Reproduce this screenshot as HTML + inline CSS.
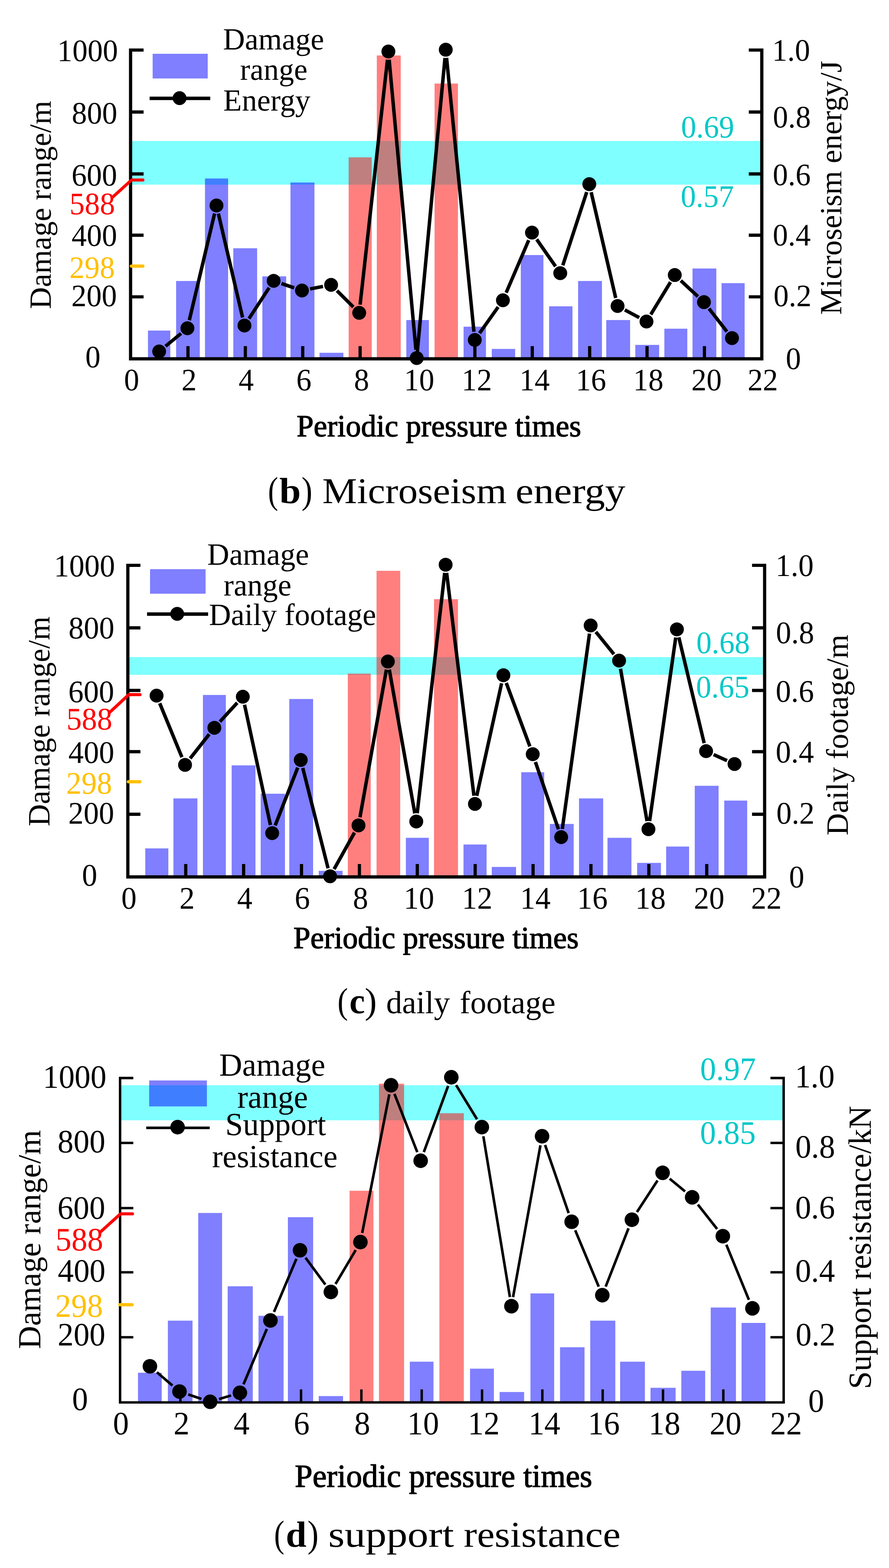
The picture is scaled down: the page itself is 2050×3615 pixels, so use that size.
<!DOCTYPE html>
<html lang="en"><head><meta charset="utf-8"><title>Figure: damage range versus microseism energy, daily footage and support resistance</title>
<style>html,body{margin:0;padding:0;background:#fff}body{width:2050px;height:3615px;overflow:hidden}svg{display:block}text{font-family:"Liberation Serif","Times New Roman",Times,serif;white-space:pre}</style></head><body>
<svg width="2050" height="3615" viewBox="0 0 2050 3615" shape-rendering="geometricPrecision" text-rendering="geometricPrecision">
<rect width="2050" height="3615" fill="#fff"/>
<g id="chart-b">
<rect x="301.1" y="325" width="1455.6" height="100.7" fill="#00ffff" fill-opacity="0.5"/>
<g fill="#0000ff" fill-opacity="0.5"><rect x="341.2" y="762.07" width="51.5" height="65.13"/><rect x="406.1" y="647.83" width="54.6" height="179.37"/><rect x="472.7" y="411.51" width="53.3" height="415.69"/><rect x="538" y="572.38" width="54.9" height="254.82"/><rect x="605" y="637.15" width="54.9" height="190.05"/><rect x="669.8" y="420.76" width="55.3" height="406.44"/><rect x="736.8" y="813.32" width="55" height="13.88"/><rect x="936.9" y="737.87" width="52.1" height="89.33"/><rect x="1069" y="753.17" width="51.6" height="74.03"/><rect x="1134" y="804.42" width="53.9" height="22.78"/><rect x="1200.9" y="588.04" width="52.2" height="239.16"/><rect x="1266.2" y="706.19" width="53.9" height="121.01"/><rect x="1333.1" y="647.83" width="55" height="179.37"/><rect x="1398" y="737.87" width="55" height="89.33"/><rect x="1465" y="795.17" width="55" height="32.03"/><rect x="1532" y="757.8" width="52.9" height="69.4"/><rect x="1596.9" y="619" width="54.9" height="208.2"/><rect x="1663.8" y="652.81" width="53.3" height="174.39"/></g>
<g fill="#ff0000" fill-opacity="0.5"><rect x="804" y="362.75" width="53.2" height="464.45"/><rect x="868.9" y="127.86" width="55.2" height="699.34"/><rect x="1002.1" y="192.63" width="53.9" height="634.57"/></g>
<rect x="352" y="124" width="127" height="56.9" fill="#0000ff" fill-opacity="0.5"/>
<path d="M331.1 115.4H301.1V827.2H1756.7V115.4H1726.7" fill="none" stroke="#000" stroke-width="7.4" stroke-linejoin="miter"/><path d="M301.1 258.3H331.1M1756.7 258.3H1726.7M301.1 401H331.1M1756.7 401H1726.7M301.1 542.2H331.1M1756.7 542.2H1726.7M301.1 684.4H331.1M1756.7 684.4H1726.7M433.43 827.2V798M565.75 827.2V798M698.08 827.2V798M830.41 827.2V798M962.74 827.2V798M1095.06 827.2V798M1227.39 827.2V798M1359.72 827.2V798M1492.05 827.2V798M1624.37 827.2V798" fill="none" stroke="#000" stroke-width="7.4"/>
<path d="M260.7 453.6L303.3 415H329.5" fill="none" stroke="#ff0000" stroke-width="7" stroke-linecap="round" stroke-linejoin="round"/>
<path d="M303 613.6H329.5" fill="none" stroke="#ffc000" stroke-width="7.5" stroke-linecap="round"/>
<path d="M381.68 798.23L417.52 768.77M436.58 738.21L494.82 492.29M503.51 492.3L559.39 732M574.09 734.59L620.61 663.41M648.98 653.64L678.32 663.66M714.95 666.19L744.85 660.41M776.97 670.2L814.83 707.9M830.41 702.42L893.49 137.58M897.35 137.62L959.15 806.48M962.68 806.48L1026.12 133.52M1029.79 133.51L1092.91 764.89M1105.78 768.3L1148.72 707.7M1167.2 674.74L1219.2 553.76M1237.58 551.88L1281.02 614.12M1297.8 611.64L1353 442.66M1363.2 443.11L1419.8 686.99M1440.84 714.49L1474.06 732.31M1500.67 725.07L1546.13 650.33M1569.92 647.03L1609.38 683.67M1634.99 711.58L1676.21 764.42M345 226.8H484.8" fill="none" stroke="#000" stroke-width="8"/>
<g fill="#000"><circle cx="367" cy="810.3" r="16"/><circle cx="432.2" cy="756.7" r="16"/><circle cx="499.2" cy="473.8" r="16"/><circle cx="563.7" cy="750.5" r="16"/><circle cx="631" cy="647.5" r="16"/><circle cx="696.3" cy="669.8" r="16"/><circle cx="763.5" cy="656.8" r="16"/><circle cx="828.3" cy="721.3" r="16"/><circle cx="895.6" cy="118.7" r="16"/><circle cx="960.9" cy="825.4" r="16"/><circle cx="1027.9" cy="114.6" r="16"/><circle cx="1094.8" cy="783.8" r="16"/><circle cx="1159.7" cy="692.2" r="16"/><circle cx="1226.7" cy="536.3" r="16"/><circle cx="1291.9" cy="629.7" r="16"/><circle cx="1358.9" cy="424.6" r="16"/><circle cx="1424.1" cy="705.5" r="16"/><circle cx="1490.8" cy="741.3" r="16"/><circle cx="1556" cy="634.1" r="16"/><circle cx="1623.3" cy="696.6" r="16"/><circle cx="1687.9" cy="779.4" r="16"/><circle cx="414.1" cy="226.3" r="16"/></g>
<g fill="#000">
<text transform="translate(131.91 141.11) scale(1.0000 1.0300)" font-size="70">1000</text>
<text transform="translate(165.4 285.16) scale(1.0000 1.0300)" font-size="70">800</text>
<text transform="translate(164.95 428.26) scale(1.0000 1.0300)" font-size="70">600</text>
<text transform="translate(160.25 494.16) scale(1.0000 1.0300)" font-size="70" fill="#ff0000">588</text>
<text transform="translate(165 567.16) scale(1.0000 1.0300)" font-size="70">400</text>
<text transform="translate(159.9 641.06) scale(1.0000 1.0300)" font-size="70" fill="#ffc000">298</text>
<text transform="translate(164.45 706.16) scale(1.0000 1.0300)" font-size="70">200</text>
<text transform="translate(196.65 847.21) scale(1.0000 1.0300)" font-size="70">0</text>
<text transform="translate(1780.41 140.16) scale(1.0000 1.0300)" font-size="70">1.0</text>
<text transform="translate(1782.35 294.46) scale(1.0000 1.0300)" font-size="70">0.8</text>
<text transform="translate(1782.1 426.96) scale(1.0000 1.0300)" font-size="70">0.6</text>
<text transform="translate(1782.1 566.46) scale(1.0000 1.0300)" font-size="70">0.4</text>
<text transform="translate(1783.7 706.06) scale(1.0000 1.0300)" font-size="70">0.2</text>
<text transform="translate(1812.05 850.86) scale(1.0000 1.0300)" font-size="70">0</text>
<text transform="translate(1570.6 317.16) scale(1.0000 1.0300)" font-size="70" fill="#00c8c8">0.69</text>
<text transform="translate(1569.8 476.66) scale(1.0000 1.0300)" font-size="70" fill="#00c8c8">0.57</text>
<text transform="translate(285.9 899.86) scale(1.0000 1.0300)" font-size="70">0</text>
<text transform="translate(418.5 900.42) scale(1.0000 1.0300)" font-size="70">2</text>
<text transform="translate(550.3 900.42) scale(1.0000 1.0300)" font-size="70">4</text>
<text transform="translate(683.35 899.86) scale(1.0000 1.0300)" font-size="70">6</text>
<text transform="translate(816.2 899.86) scale(1.0000 1.0300)" font-size="70">8</text>
<text transform="translate(931.51 899.86) scale(1.0000 1.0300)" font-size="70">10</text>
<text transform="translate(1064.46 900.42) scale(1.0000 1.0300)" font-size="70">12</text>
<text transform="translate(1197.76 900.42) scale(1.0000 1.0300)" font-size="70">14</text>
<text transform="translate(1327.71 899.86) scale(1.0000 1.0300)" font-size="70">16</text>
<text transform="translate(1460.06 899.86) scale(1.0000 1.0300)" font-size="70">18</text>
<text transform="translate(1594.3 899.86) scale(1.0000 1.0300)" font-size="70">20</text>
<text transform="translate(1724.05 900.42) scale(1.0000 1.0300)" font-size="70">22</text>
<text transform="translate(117 712.49) rotate(-90) scale(1.0002 1.0150)" font-size="70">Damage range/m</text>
<text transform="translate(1940.4 725.7) rotate(-90) scale(1.0031 1.0150)" font-size="70">Microseism energy/J</text>
<text transform="translate(514.17 114.2) scale(1.0000 1.0150)" font-size="70">Damage</text>
<text transform="translate(553.5 184.3) scale(1.0000 1.0150)" font-size="70">range</text>
<text transform="translate(514.87 255.4) scale(1.0000 1.0150)" font-size="70">Energy</text>
<text transform="translate(684.11 1006.2) scale(1.0000 1.0150)" font-size="70.3" stroke="#000" stroke-width="1.5" stroke-linejoin="round">Periodic pressure times</text>
<text y="1160.3"><tspan x="617.9" font-size="87.36" textLength="23.44" lengthAdjust="spacingAndGlyphs">(</tspan><tspan x="644.3" font-size="84" textLength="49.4" lengthAdjust="spacingAndGlyphs" font-weight="bold">b</tspan><tspan x="695.15" font-size="87.36" textLength="25.07" lengthAdjust="spacingAndGlyphs">)</tspan> <tspan x="743.29" font-size="84" textLength="425.11" lengthAdjust="spacingAndGlyphs">Microseism</tspan> <tspan x="1188.87" font-size="84" textLength="253.13" lengthAdjust="spacingAndGlyphs">energy</tspan></text>
</g></g>
<g id="chart-c">
<rect x="294.8" y="1515" width="1468.4" height="40.8" fill="#00ffff" fill-opacity="0.5"/>
<g fill="#0000ff" fill-opacity="0.5"><rect x="335" y="1955.98" width="53.2" height="65.72"/><rect x="399.9" y="1840.69" width="55.3" height="181.01"/><rect x="467.9" y="1602.21" width="52.9" height="419.49"/><rect x="534.2" y="1764.55" width="54.9" height="257.15"/><rect x="601.1" y="1829.91" width="56" height="191.79"/><rect x="667.1" y="1611.55" width="54.9" height="410.15"/><rect x="735" y="2007.69" width="55" height="14.01"/><rect x="935.9" y="1931.55" width="52.9" height="90.15"/><rect x="1068.8" y="1947" width="53.2" height="74.7"/><rect x="1134" y="1998.71" width="56" height="22.99"/><rect x="1202" y="1780.35" width="52.9" height="241.35"/><rect x="1268" y="1899.59" width="54.9" height="122.11"/><rect x="1335.2" y="1840.69" width="55.7" height="181.01"/><rect x="1400.8" y="1931.55" width="55.3" height="90.15"/><rect x="1469.2" y="1989.38" width="54.9" height="32.32"/><rect x="1536.1" y="1951.67" width="52.9" height="70.03"/><rect x="1602.1" y="1811.6" width="54.9" height="210.1"/><rect x="1670.1" y="1845.72" width="52.9" height="175.98"/></g>
<g fill="#ff0000" fill-opacity="0.5"><rect x="802" y="1553.01" width="52.9" height="468.69"/><rect x="868.3" y="1315.97" width="54.6" height="705.73"/><rect x="1000.8" y="1381.34" width="55.3" height="640.36"/></g>
<rect x="346" y="1312.2" width="128.1" height="56.6" fill="#0000ff" fill-opacity="0.5"/>
<path d="M323.8 1303.4H294.8V2021.7H1763.2V1303.4H1734.2" fill="none" stroke="#000" stroke-width="7.4" stroke-linejoin="miter"/><path d="M294.8 1447.5H323.8M1763.2 1447.5H1734.2M294.8 1591.7H323.8M1763.2 1591.7H1734.2M294.8 1733H323.8M1763.2 1733H1734.2M294.8 1877.3H323.8M1763.2 1877.3H1734.2M428.29 2021.7V1992M561.78 2021.7V1992M695.27 2021.7V1992M828.76 2021.7V1992M962.25 2021.7V1992M1095.75 2021.7V1992M1229.24 2021.7V1992M1362.73 2021.7V1992M1496.22 2021.7V1992M1629.71 2021.7V1992" fill="none" stroke="#000" stroke-width="7.4"/>
<path d="M253.7 1641.6L297 1601.4H323" fill="none" stroke="#ff0000" stroke-width="7" stroke-linecap="round" stroke-linejoin="round"/>
<path d="M296 1802.3H322.5" fill="none" stroke="#ffc000" stroke-width="7.5" stroke-linecap="round"/>
<path d="M368.32 1621.37L419.48 1745.83M438.48 1748.5L482.52 1692.8M507.13 1663.88L547.07 1620.22M563.9 1624.77L623.6 1902.13M634.52 1903L686.58 1769.8M698.15 1770.52L756.55 2001.88M770.46 2003.71L817.44 1919.49M830.05 1884.2L891.05 1543.8M897.72 1543.81L956.58 1875.19M962.06 1875.02L1025.44 1320.78M1029.91 1320.76L1092.89 1834.54M1099.3 1834.85L1156.7 1575.25M1167.42 1574.51L1221.88 1720.89M1234.65 1756.68L1287.85 1912.02M1296.62 1911.18L1359.38 1460.82M1373.96 1456.77L1415.64 1508.23M1430.86 1541.72L1492.04 1893.08M1497.98 1892.99L1558.22 1469.71M1565.33 1469.38L1623.77 1713.32M1645.52 1739.61L1676.48 1753.59M339.1 1415.8H479.9" fill="none" stroke="#000" stroke-width="8"/>
<g fill="#000"><circle cx="361.1" cy="1603.8" r="16"/><circle cx="426.7" cy="1763.4" r="16"/><circle cx="494.3" cy="1677.9" r="16"/><circle cx="559.9" cy="1606.2" r="16"/><circle cx="627.6" cy="1920.7" r="16"/><circle cx="693.5" cy="1752.1" r="16"/><circle cx="761.2" cy="2020.3" r="16"/><circle cx="826.7" cy="1902.9" r="16"/><circle cx="894.4" cy="1525.1" r="16"/><circle cx="959.9" cy="1893.9" r="16"/><circle cx="1027.6" cy="1301.9" r="16"/><circle cx="1095.2" cy="1853.4" r="16"/><circle cx="1160.8" cy="1556.7" r="16"/><circle cx="1228.5" cy="1738.7" r="16"/><circle cx="1294" cy="1930" r="16"/><circle cx="1362" cy="1442" r="16"/><circle cx="1427.6" cy="1523" r="16"/><circle cx="1495.3" cy="1911.8" r="16"/><circle cx="1560.9" cy="1450.9" r="16"/><circle cx="1628.2" cy="1731.8" r="16"/><circle cx="1693.8" cy="1761.4" r="16"/><circle cx="408.6" cy="1415.2" r="16"/></g>
<g fill="#000">
<text transform="translate(124.2 1328.93) scale(1.0000 1.0300)" font-size="70.5">1000</text>
<text transform="translate(157.88 1471.93) scale(1.0000 1.0300)" font-size="70.5">800</text>
<text transform="translate(157.47 1618.68) scale(1.0000 1.0300)" font-size="70.5">600</text>
<text transform="translate(153.17 1682.38) scale(1.0000 1.0300)" font-size="70.5" fill="#ff0000">588</text>
<text transform="translate(157.78 1758.68) scale(1.0000 1.0300)" font-size="70.5">400</text>
<text transform="translate(152.78 1829.83) scale(1.0000 1.0300)" font-size="70.5" fill="#ffc000">298</text>
<text transform="translate(157.47 1898.98) scale(1.0000 1.0300)" font-size="70.5">200</text>
<text transform="translate(189.12 2041.83) scale(1.0000 1.0300)" font-size="70.5">0</text>
<text transform="translate(1788.14 1328.13) scale(1.0000 1.0300)" font-size="70.5">1.0</text>
<text transform="translate(1789.34 1483.18) scale(1.0000 1.0300)" font-size="70.5">0.8</text>
<text transform="translate(1788.79 1617.78) scale(1.0000 1.0300)" font-size="70.5">0.6</text>
<text transform="translate(1788.79 1757.93) scale(1.0000 1.0300)" font-size="70.5">0.4</text>
<text transform="translate(1790.19 1898.83) scale(1.0000 1.0300)" font-size="70.5">0.2</text>
<text transform="translate(1819.38 2045.58) scale(1.0000 1.0300)" font-size="70.5">0</text>
<text transform="translate(1605.81 1505.78) scale(1.0000 1.0300)" font-size="70.5" fill="#00c8c8">0.68</text>
<text transform="translate(1604.96 1608.03) scale(1.0000 1.0300)" font-size="70.5" fill="#00c8c8">0.65</text>
<text transform="translate(279.68 2094.73) scale(1.0000 1.0300)" font-size="70.5">0</text>
<text transform="translate(413.72 2095.29) scale(1.0000 1.0300)" font-size="70.5">2</text>
<text transform="translate(546.66 2095.29) scale(1.0000 1.0300)" font-size="70.5">4</text>
<text transform="translate(679.6 2094.73) scale(1.0000 1.0300)" font-size="70.5">6</text>
<text transform="translate(813.64 2094.73) scale(1.0000 1.0300)" font-size="70.5">8</text>
<text transform="translate(930.85 2094.73) scale(1.0000 1.0300)" font-size="70.5">10</text>
<text transform="translate(1064.89 2095.29) scale(1.0000 1.0300)" font-size="70.5">12</text>
<text transform="translate(1199.28 2095.29) scale(1.0000 1.0300)" font-size="70.5">14</text>
<text transform="translate(1330.77 2094.73) scale(1.0000 1.0300)" font-size="70.5">16</text>
<text transform="translate(1464.82 2094.73) scale(1.0000 1.0300)" font-size="70.5">18</text>
<text transform="translate(1599.96 2094.73) scale(1.0000 1.0300)" font-size="70.5">20</text>
<text transform="translate(1732 2095.29) scale(1.0000 1.0300)" font-size="70.5">22</text>
<text transform="translate(113.6 1904.9) rotate(-90) scale(1.0008 1.0150)" font-size="70.5">Damage range/m</text>
<text transform="translate(1954.8 1926.11) rotate(-90) scale(1.0065 1.0150)" font-size="70.5">Daily footage/m</text>
<text transform="translate(477.74 1301.9) scale(1.0000 1.0150)" font-size="70.5">Damage</text>
<text transform="translate(515.49 1372.6) scale(1.0000 1.0150)" font-size="70.5">range</text>
<text transform="translate(481.65 1440.6) scale(1.0000 1.0150)" font-size="70.5">Daily footage</text>
<text transform="translate(676.53 2185.5) scale(1.0000 1.0150)" font-size="70.5" stroke="#000" stroke-width="1.5" stroke-linejoin="round">Periodic pressure times</text>
<text y="2336.4"><tspan x="778.13" font-size="83.84" textLength="24.15" lengthAdjust="spacingAndGlyphs">(</tspan><tspan x="805.68" font-size="83.62" textLength="35.79" lengthAdjust="spacingAndGlyphs" font-weight="bold">c</tspan><tspan x="840.89" font-size="83.84" textLength="27.83" lengthAdjust="spacingAndGlyphs">)</tspan> <tspan x="890.5" font-size="74" textLength="146.9" lengthAdjust="spacingAndGlyphs">daily</tspan> <tspan x="1060.05" font-size="74" textLength="220.87" lengthAdjust="spacingAndGlyphs">footage</tspan></text>
</g></g>
<g id="chart-d">
<rect x="276.9" y="2502.1" width="1530.2" height="80.7" fill="#00ffff" fill-opacity="0.5"/>
<g fill="#0000ff" fill-opacity="0.5"><rect x="318.2" y="3164.78" width="54.7" height="68.42"/><rect x="387.1" y="3044.75" width="56.8" height="188.45"/><rect x="457.1" y="2796.48" width="55" height="436.72"/><rect x="525" y="2965.49" width="57.9" height="267.71"/><rect x="596.1" y="3033.54" width="57.8" height="199.66"/><rect x="663.9" y="2806.21" width="58.2" height="426.99"/><rect x="735" y="3218.62" width="56" height="14.58"/><rect x="945" y="3139.35" width="54.6" height="93.85"/><rect x="1083.9" y="3155.43" width="55" height="77.77"/><rect x="1152.1" y="3209.27" width="56.5" height="23.93"/><rect x="1223.2" y="2981.94" width="54.7" height="251.26"/><rect x="1291.4" y="3106.07" width="56.5" height="127.13"/><rect x="1361.1" y="3044.75" width="57.8" height="188.45"/><rect x="1430" y="3139.35" width="57.1" height="93.85"/><rect x="1500" y="3199.55" width="57.9" height="33.65"/><rect x="1571.1" y="3160.29" width="55" height="72.91"/><rect x="1638.9" y="3014.47" width="58.2" height="218.73"/><rect x="1710" y="3049.99" width="55" height="183.21"/></g>
<g fill="#ff0000" fill-opacity="0.5"><rect x="806.1" y="2745.26" width="55" height="487.94"/><rect x="873.9" y="2498.49" width="57.9" height="734.71"/><rect x="1013.2" y="2566.54" width="56.4" height="666.66"/></g>
<rect x="344" y="2491" width="133.1" height="59.8" fill="#0000ff" fill-opacity="0.5"/>
<path d="M307.4 2485.4H276.9V3233.2H1807.1V2485.4H1776.6" fill="none" stroke="#000" stroke-width="5.6" stroke-linejoin="miter"/><path d="M276.9 2635H307.4M1807.1 2635H1776.6M276.9 2785.2H307.4M1807.1 2785.2H1776.6M276.9 2933.2H307.4M1807.1 2933.2H1776.6M276.9 3083H307.4M1807.1 3083H1776.6M416.01 3233.2V3203.2M555.12 3233.2V3203.2M694.23 3233.2V3203.2M833.34 3233.2V3203.2M972.45 3233.2V3203.2M1111.55 3233.2V3203.2M1250.66 3233.2V3203.2M1389.77 3233.2V3203.2M1528.88 3233.2V3203.2M1667.99 3233.2V3203.2" fill="none" stroke="#000" stroke-width="5.6"/>
<path d="M231.5 2840.3L278 2798.4H305.5" fill="none" stroke="#ff0000" stroke-width="7" stroke-linecap="round" stroke-linejoin="round"/>
<path d="M276.5 3008H304.5" fill="none" stroke="#ffc000" stroke-width="7.5" stroke-linecap="round"/>
<path d="M361.9 3163.83L397.7 3194.37M434.1 3214.94L464.4 3225.06M504.99 3225.65L532.81 3217.25M561.48 3191.48L615.32 3063.92M631.87 3024.67L683.53 2902.13M704.47 2899.62L750.23 2961.48M773.76 2960.28L820.24 2881.92M835.19 2842.7L897.71 2523M909.57 2521.93L962.23 2656.27M977.34 2656.11L1033.36 2503.59M1051.82 2501.77L1099.98 2580.43M1114.57 2619.62L1175.83 2990.38M1183.08 2990.44L1246.22 2640.56M1256.96 2639.73L1311.24 2796.67M1326.41 2836.46L1380.69 2966.44M1396.67 2966.27L1449.33 2831.93M1468.76 2794.28L1516.24 2721.72M1544.3 2717.49L1579.7 2746.81M1609.29 2777.12L1653.61 2833.28M1674.88 2869.71L1726.92 2996.69M337.2 2600.2H483.6" fill="none" stroke="#000" stroke-width="6"/>
<g fill="#000"><circle cx="345.7" cy="3150" r="16.8"/><circle cx="413.9" cy="3208.2" r="16.8"/><circle cx="484.6" cy="3231.8" r="16.8"/><circle cx="553.2" cy="3211.1" r="16.8"/><circle cx="623.6" cy="3044.3" r="16.8"/><circle cx="691.8" cy="2882.5" r="16.8"/><circle cx="762.9" cy="2978.6" r="16.8"/><circle cx="831.1" cy="2863.6" r="16.8"/><circle cx="901.8" cy="2502.1" r="16.8"/><circle cx="970" cy="2676.1" r="16.8"/><circle cx="1040.7" cy="2483.6" r="16.8"/><circle cx="1111.1" cy="2598.6" r="16.8"/><circle cx="1179.3" cy="3011.4" r="16.8"/><circle cx="1250" cy="2619.6" r="16.8"/><circle cx="1318.2" cy="2816.8" r="16.8"/><circle cx="1388.9" cy="2986.1" r="16.8"/><circle cx="1457.1" cy="2812.1" r="16.8"/><circle cx="1527.9" cy="2703.9" r="16.8"/><circle cx="1596.1" cy="2760.4" r="16.8"/><circle cx="1666.8" cy="2850" r="16.8"/><circle cx="1735" cy="3016.4" r="16.8"/><circle cx="409.5" cy="2598.6" r="16.8"/></g>
<g fill="#000">
<text transform="translate(98.73 2507.71) scale(1.0000 1.0300)" font-size="73.4">1000</text>
<text transform="translate(132.8 2656.76) scale(1.0000 1.0300)" font-size="73.4">800</text>
<text transform="translate(132.55 2809.81) scale(1.0000 1.0300)" font-size="73.4">600</text>
<text transform="translate(127.98 2882.71) scale(1.0000 1.0300)" font-size="73.4" fill="#ff0000">588</text>
<text transform="translate(133.22 2955.41) scale(1.0000 1.0300)" font-size="73.4">400</text>
<text transform="translate(127.45 3035.91) scale(1.0000 1.0300)" font-size="73.4" fill="#ffc000">298</text>
<text transform="translate(132.95 3102.41) scale(1.0000 1.0300)" font-size="73.4">200</text>
<text transform="translate(166.25 3250.76) scale(1.0000 1.0300)" font-size="73.4">0</text>
<text transform="translate(1832.9 2507.01) scale(1.0000 1.0300)" font-size="73.4">1.0</text>
<text transform="translate(1833.92 2669.01) scale(1.0000 1.0300)" font-size="73.4">0.8</text>
<text transform="translate(1833.65 2809.11) scale(1.0000 1.0300)" font-size="73.4">0.6</text>
<text transform="translate(1833.65 2955.11) scale(1.0000 1.0300)" font-size="73.4">0.4</text>
<text transform="translate(1834.8 3102.46) scale(1.0000 1.0300)" font-size="73.4">0.2</text>
<text transform="translate(1863.65 3254.56) scale(1.0000 1.0300)" font-size="73.4">0</text>
<text transform="translate(1614.5 2490.41) scale(1.0000 1.0300)" font-size="73.4" fill="#00c8c8">0.97</text>
<text transform="translate(1614.18 2637.46) scale(1.0000 1.0300)" font-size="73.4" fill="#00c8c8">0.85</text>
<text transform="translate(260.55 3306.66) scale(1.0000 1.0300)" font-size="73.4">0</text>
<text transform="translate(400.23 3307.25) scale(1.0000 1.0300)" font-size="73.4">2</text>
<text transform="translate(538.77 3307.25) scale(1.0000 1.0300)" font-size="73.4">4</text>
<text transform="translate(677.3 3306.66) scale(1.0000 1.0300)" font-size="73.4">6</text>
<text transform="translate(816.99 3306.66) scale(1.0000 1.0300)" font-size="73.4">8</text>
<text transform="translate(939.03 3306.66) scale(1.0000 1.0300)" font-size="73.4">10</text>
<text transform="translate(1078.71 3307.25) scale(1.0000 1.0300)" font-size="73.4">12</text>
<text transform="translate(1218.67 3307.25) scale(1.0000 1.0300)" font-size="73.4">14</text>
<text transform="translate(1355.78 3306.66) scale(1.0000 1.0300)" font-size="73.4">16</text>
<text transform="translate(1495.46 3306.66) scale(1.0000 1.0300)" font-size="73.4">18</text>
<text transform="translate(1636.29 3306.66) scale(1.0000 1.0300)" font-size="73.4">20</text>
<text transform="translate(1775.97 3307.25) scale(1.0000 1.0300)" font-size="73.4">22</text>
<text transform="translate(93.3 3109.95) rotate(-90) scale(1.0029 1.0150)" font-size="73.4">Damage range/m</text>
<text transform="translate(2008 3202.51) rotate(-90) scale(1.0045 1.0150)" font-size="73.4">Support resistance/kN</text>
<text transform="translate(505.47 2480) scale(1.0000 1.0150)" font-size="73.4">Damage</text>
<text transform="translate(547.13 2554.3) scale(1.0000 1.0150)" font-size="73.4">range</text>
<text transform="translate(519.4 2616.8) scale(1.0000 1.0150)" font-size="73.4">Support</text>
<text transform="translate(488.9 2690.7) scale(1.0000 1.0150)" font-size="73.4">resistance</text>
<text transform="translate(679.8 3427.6) scale(1.0000 1.0150)" font-size="73.5" stroke="#000" stroke-width="1.5" stroke-linejoin="round">Periodic pressure times</text>
<text y="3565.8"><tspan x="631.97" font-size="87.36" textLength="23.8" lengthAdjust="spacingAndGlyphs">(</tspan><tspan x="659.02" font-size="84" textLength="47.78" lengthAdjust="spacingAndGlyphs" font-weight="bold">d</tspan><tspan x="708.9" font-size="87.36" textLength="25.58" lengthAdjust="spacingAndGlyphs">)</tspan> <tspan x="756.98" font-size="84" textLength="289.89" lengthAdjust="spacingAndGlyphs">support</tspan> <tspan x="1069.37" font-size="84" textLength="361.65" lengthAdjust="spacingAndGlyphs">resistance</tspan></text>
</g></g>
</svg></body></html>
